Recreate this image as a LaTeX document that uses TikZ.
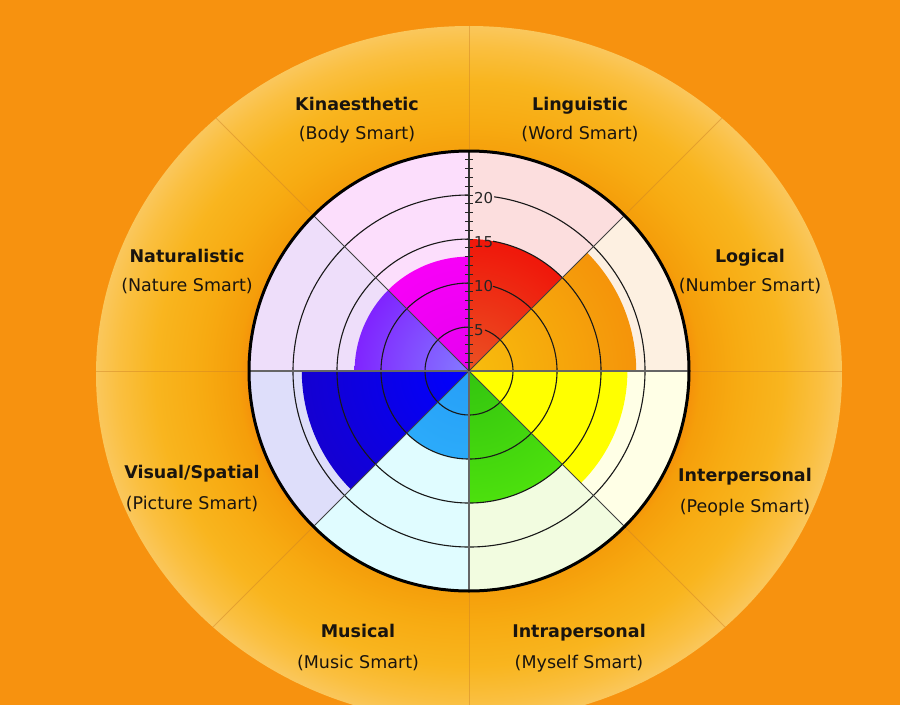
\documentclass[tikz,border=0pt]{standalone}
\usepackage{fontspec}
\setmainfont{DejaVu Sans}
\definecolor{bgorange}{RGB}{247,146,15}
\definecolor{linbg}{RGB}{252,222,222}
\definecolor{logbg}{RGB}{253,240,225}
\definecolor{intbg}{RGB}{255,255,230}
\definecolor{intrabg}{RGB}{242,252,224}
\definecolor{musbg}{RGB}{224,252,255}
\definecolor{visbg}{RGB}{222,222,250}
\definecolor{natbg}{RGB}{238,222,250}
\definecolor{kinbg}{RGB}{252,222,252}
\definecolor{divcol}{RGB}{205,130,40}
\definecolor{txt}{RGB}{25,20,15}
\pgfdeclareradialshading{ringshade}{\pgfpointorigin}{rgb(0bp)=(0.96,0.57,0.04); rgb(14.75bp)=(0.96,0.57,0.04); rgb(15.5bp)=(0.96,0.62,0.04); rgb(18bp)=(0.97,0.67,0.07); rgb(21bp)=(0.975,0.71,0.12); rgb(23.5bp)=(0.98,0.75,0.25); rgb(25bp)=(0.98,0.78,0.36); rgb(50bp)=(0.98,0.78,0.36)}
\pgfdeclareradialshading{wred}{\pgfpointorigin}{rgb(0bp)=(0.92,0.32,0.14); rgb(25bp)=(0.94,0.09,0.04); rgb(50bp)=(0.94,0.09,0.04)}
\pgfdeclareradialshading{worange}{\pgfpointorigin}{rgb(0bp)=(0.97,0.74,0.05); rgb(25bp)=(0.96,0.58,0.04); rgb(50bp)=(0.96,0.58,0.04)}
\pgfdeclareradialshading{wyellow}{\pgfpointorigin}{rgb(0bp)=(1,1,0); rgb(50bp)=(1,1,0)}
\pgfdeclareradialshading{wgreen}{\pgfpointorigin}{rgb(0bp)=(0.2,0.77,0.06); rgb(25bp)=(0.3,0.88,0.05); rgb(50bp)=(0.3,0.88,0.05)}
\pgfdeclareradialshading{wcyan}{\pgfpointorigin}{rgb(0bp)=(0.15,0.62,0.97); rgb(25bp)=(0.17,0.67,0.98); rgb(50bp)=(0.17,0.67,0.98)}
\pgfdeclareradialshading{wblue}{\pgfpointorigin}{rgb(0bp)=(0,0,1); rgb(25bp)=(0.08,0,0.82); rgb(50bp)=(0.08,0,0.82)}
\pgfdeclareradialshading{wpurple}{\pgfpointorigin}{rgb(0bp)=(0.52,0.48,1); rgb(25bp)=(0.5,0.14,1); rgb(50bp)=(0.5,0.14,1)}
\pgfdeclareradialshading{wmagenta}{\pgfpointorigin}{rgb(0bp)=(0.9,0,0.94); rgb(25bp)=(0.97,0,0.97); rgb(50bp)=(0.97,0,0.97)}
\newcommand\valwedge[4]{%
  \begin{scope}
    \clip (0,0) -- (#1:#3pt) arc[start angle=#1, end angle=#2, radius=#3pt] -- cycle;
    \shade[shading=#4] (0,0) circle[radius=#3pt];
  \end{scope}}
\begin{document}
\begin{tikzpicture}[x=1pt,y=1pt,
  lbl/.style={font=\fontsize{17.5}{20}\selectfont\bfseries, text=txt, anchor=base, inner sep=0pt},
  sub/.style={font=\fontsize{17.5}{20}\selectfont, text=txt, anchor=base, inner sep=0pt},
  ticklbl/.style={font=\fontsize{15}{17}\selectfont, text=black!85, anchor=west, inner sep=1pt},
  ringline/.style={draw=black!90, line width=1.1pt},
  outdiv/.style={draw=divcol, line width=0.8pt, opacity=0.45},
  diagline/.style={draw=black!75, line width=0.8pt},
  axisline/.style={draw=black!60, line width=1.7pt},
  tickmark/.style={draw=black!85, line width=0.9pt}]
\useasboundingbox (0,0) rectangle (900,-707);
\clip (0,0) rectangle (900,-707);
\fill[bgorange] (0,0) rectangle (900,-707);
% outer ring
\shade[shading=ringshade] (469,-374) ellipse[x radius=373pt, y radius=348pt];
\begin{scope}
  \clip (469,-374) ellipse[x radius=373pt, y radius=348pt];
  \foreach \a in {0,45,...,315} \draw[outdiv] (469,-371) ++(\a:222pt) -- ++(\a:300pt);
\end{scope}
% chart
\begin{scope}[shift={(469,-371)}]
  \foreach \a/\c in {0/logbg,45/linbg,90/kinbg,135/natbg,180/visbg,225/musbg,270/intrabg,315/intbg}
    \fill[\c] (0,0) -- (\a:220pt) arc[start angle=\a, end angle=\a+45, radius=220pt] -- cycle;
  \valwedge{0}{45}{167.2}{worange}
  \valwedge{45}{90}{132}{wred}
  \valwedge{90}{135}{114.4}{wmagenta}
  \valwedge{135}{180}{114.4}{wpurple}
  \valwedge{180}{225}{167.2}{wblue}
  \valwedge{225}{270}{88}{wcyan}
  \valwedge{270}{315}{132}{wgreen}
  \valwedge{315}{360}{158.4}{wyellow}
  % rings
  \draw[ringline] (68.7:44pt) arc[start angle=68.7, end angle=-270, radius=44pt];
  \draw[ringline] (74.2:88pt) arc[start angle=74.2, end angle=-270, radius=88pt];
  \draw[ringline] (79.5:132pt) arc[start angle=79.5, end angle=-270, radius=132pt];
  \draw[ringline] (81.8:176pt) arc[start angle=81.8, end angle=-270, radius=176pt];
  % radial lines
  \foreach \a in {45,135,225,315} \draw[diagline] (0,0) -- (\a:220pt);
  \draw[axisline] (-220,0) -- (220,0);
  \draw[axisline] (0,0) -- (0,-220);
  \draw[draw=black!80, line width=1.5pt] (0,0) -- (0,220);
  % outer circle
  \draw[black, line width=3pt] (0,0) circle[radius=220pt];
  % ticks
  \foreach \k in {1,...,24} \draw[tickmark] (-4,\k*8.8) -- (4,\k*8.8);
  \node[ticklbl] (t5) at (4,41) {5};
  \node[ticklbl] (t10) at (4,85) {10};
  \node[ticklbl] (t15) at (4,129) {15};
  \node[ticklbl] (t20) at (4,173) {20};
\end{scope}
% labels
\node[lbl] (kin) at (357,-110) {Kinaesthetic};
\node[sub] (kins) at (357,-139) {(Body Smart)};
\node[lbl] (lin) at (580,-110) {Linguistic};
\node[sub] (lins) at (580,-139) {(Word Smart)};
\node[lbl] (nat) at (187,-262) {Naturalistic};
\node[sub] (nats) at (187,-291) {(Nature Smart)};
\node[lbl] (log) at (750,-262) {Logical};
\node[sub] (logs) at (750,-291) {(Number Smart)};
\node[lbl] (vis) at (192,-478) {Visual/Spatial};
\node[sub] (viss) at (192,-509) {(Picture Smart)};
\node[lbl] (inter) at (745,-481) {Interpersonal};
\node[sub] (inters) at (745,-512) {(People Smart)};
\node[lbl] (mus) at (358,-637) {Musical};
\node[sub] (muss) at (358,-668) {(Music Smart)};
\node[lbl] (intra) at (579,-637) {Intrapersonal};
\node[sub] (intras) at (579,-668) {(Myself Smart)};
\fill[white] (0,-705) rectangle (900,-708);
\end{tikzpicture}
\end{document}
